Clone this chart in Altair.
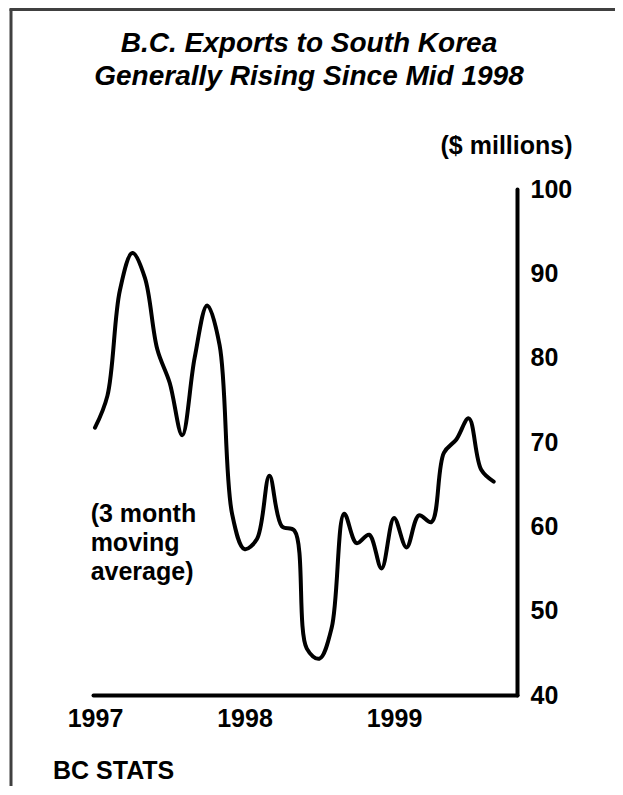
import altair as alt
import pandas as pd

# ---- data (3-month moving average, $ millions) ----
months = list(range(33))  # 0 = Jan 1997 ... 32 = Sep 1999
values = [71.7, 75.5, 88.0, 92.4, 89.5, 81.0, 77.0, 70.8, 80.0, 86.2, 81.5, 61.5,
          57.3, 58.5, 66.0, 60.0, 59.5, 45.5, 44.3, 48.0, 61.5, 58.0, 59.0, 55.0,
          61.0, 57.5, 61.3, 60.5, 68.7, 70.3, 72.8, 66.7, 65.3]
year_ticks = [0, 12, 24]
y_ticks = [40, 50, 60, 70, 80, 90, 100]
title_text = "B.C. Exports to South Korea\nGenerally Rising Since Mid 1998"
y_title = "($ millions)"
note_text = "(3 month\nmoving\naverage)"
source_text = "BC STATS"

FONT = "Liberation Sans, Arial, sans-serif"

df = pd.DataFrame({"m": months, "v": values})
note_df = pd.DataFrame({"m": [-0.35], "v": [61.5], "t": [note_text]})
one = pd.DataFrame({"a": [0]})

x_enc = alt.X(
    "m:Q",
    scale=alt.Scale(domain=[-0.16, 33.87], nice=False, zero=False),
    axis=alt.Axis(values=year_ticks, labelExpr="'' + (1997 + datum.value / 12)",
                  title=None, ticks=False, tickSize=0, grid=False,
                  domainWidth=4, domainColor="black", domainCap="round",
                  labelFont=FONT, labelFontSize=25, labelFontWeight="bold",
                  labelColor="black", labelPadding=11),
)
y_enc = alt.Y(
    "v:Q",
    scale=alt.Scale(domain=[40, 100], nice=False, zero=False),
    axis=alt.Axis(orient="right", values=y_ticks, title=y_title, titleAngle=0,
                  titleX=55, titleY=-44, titleAlign="right", titleBaseline="middle",
                  titleFont=FONT, titleFontSize=25, titleFontWeight="bold", titleColor="black",
                  ticks=False, tickSize=0, grid=False,
                  domainWidth=4, domainColor="black", domainCap="round",
                  labelFont=FONT, labelFontSize=25, labelFontWeight="bold",
                  labelColor="black", labelPadding=13),
)

line = alt.Chart(df).mark_line(
    interpolate="catmull-rom", strokeWidth=4, color="black", strokeCap="round"
).encode(x=x_enc, y=y_enc)

note = alt.Chart(note_df).mark_text(
    align="left", baseline="middle", lineBreak="\n", lineHeight=29,
    font=FONT, fontSize=25, fontWeight="bold", color="black"
).encode(x="m:Q", y="v:Q", text="t:N")

title = alt.Chart(one).mark_text(
    align="center", baseline="alphabetic", lineBreak="\n", lineHeight=33,
    font=FONT, fontSize=28, fontWeight="bold", fontStyle="italic", color="black"
).encode(x=alt.value(216), y=alt.value(-137), text=alt.value(title_text))

footer = alt.Chart(one).mark_text(
    align="left", baseline="middle", font=FONT, fontSize=25, fontWeight="bold", color="black"
).encode(x=alt.value(-40), y=alt.value(582), text=alt.value(source_text))

frame_v = alt.Chart(one).mark_rule(color="#404040", strokeWidth=3).encode(
    x=alt.value(-82), y=alt.value(-180), y2=alt.value(700))
frame_h = alt.Chart(one).mark_rule(color="#404040", strokeWidth=3).encode(
    x=alt.value(-83.5), x2=alt.value(700), y=alt.value(-179.5))

chart = alt.layer(frame_v, frame_h, line, note, title, footer).properties(
    width=424, height=506,
    padding={"left": 85, "top": 181, "right": 98, "bottom": 91},
    autosize=alt.AutoSizeParams(type="none"),
    background="white",
).configure_view(stroke=None)

chart.save("out.html", embed_options={"renderer": "svg", "actions": False})
